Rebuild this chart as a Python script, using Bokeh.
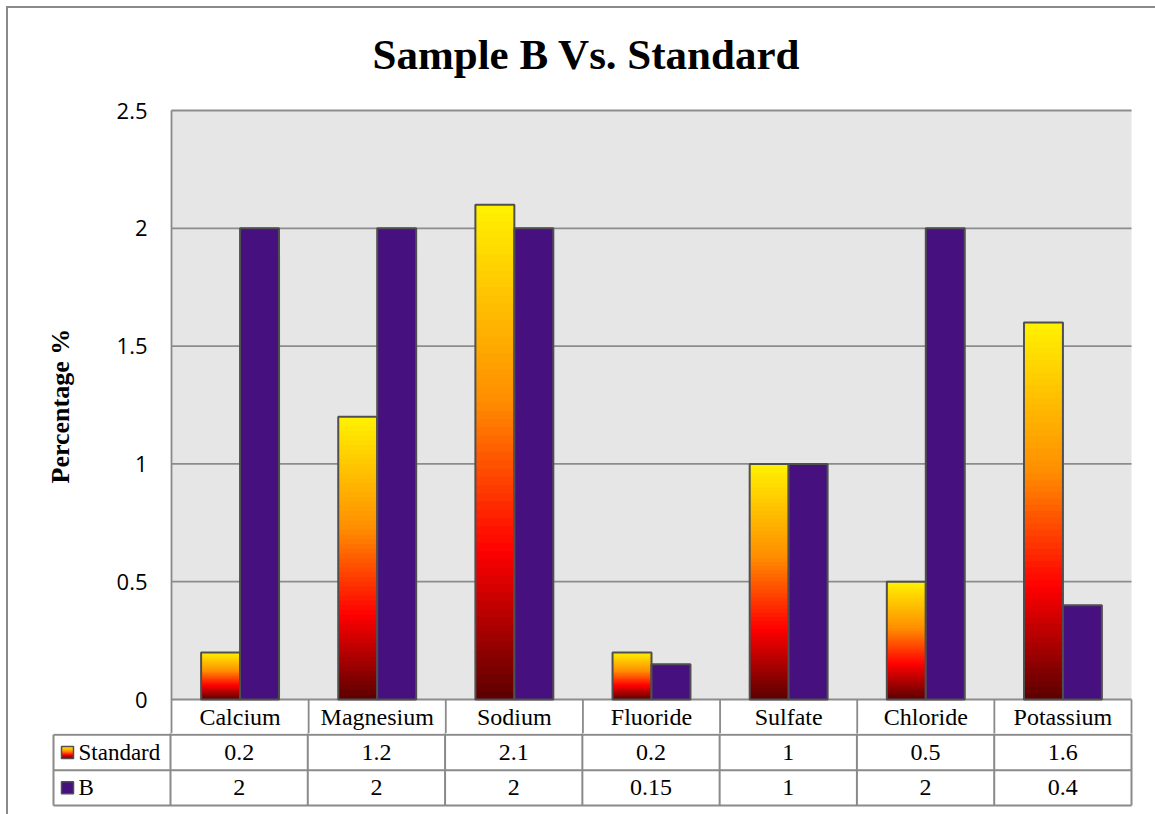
from bokeh.plotting import figure
from bokeh.layouts import column
from bokeh.models import Range1d, FixedTicker, NumeralTickFormatter, Title
from bokeh.core.properties import value
from bokeh.embed import file_html
from bokeh.resources import INLINE

# ---- data ----
categories = ["Calcium", "Magnesium", "Sodium", "Fluoride", "Sulfate", "Chloride", "Potassium"]
standard = [0.2, 1.2, 2.1, 0.2, 1.0, 0.5, 1.6]
sample_b = [2, 2, 2, 0.15, 1, 2, 0.4]
series_names = ["Standard", "B"]
y_ticks = [0, 0.5, 1, 1.5, 2, 2.5]

# ---- page geometry (pixels) ----
PAD = 8                         # outer border offset
W = 1155 - PAD
PLOT_L, PLOT_R = 170, 1131      # plot area, left/right
PLOT_T, PLOT_B = 110, 699       # plot area, top (2.5) / bottom (0)
ROW_PX = 35.33                  # data-table row height
TABLE_B = PLOT_B + 3 * ROW_PX   # bottom rule of the table
TABLE_L = 53                    # left edge of the series-name column
SPLIT = 733                     # where the chart canvas hands over to the table canvas

N = len(categories)
SCALE = (PLOT_R - PLOT_L) / N           # px per category
PXU = (PLOT_B - PLOT_T) / y_ticks[-1]   # px per y unit
BAR_W = 39 / SCALE
ROW = ROW_PX / PXU                      # one table row in y units

GRID = "#8c8c8c"
RULE = "#8a8a8a"
OUTLINE = "#4f4f4f"
PURPLE = "#46107e"
SERIF = "Liberation Serif"


def fire(t):
    """Yellow -> orange -> red -> dark red, t measured from the bar's base."""
    stops = [(0.0, (0x5a, 0x00, 0x00)), (0.30, (0xff, 0x00, 0x00)),
             (0.60, (0xff, 0x8c, 0x00)), (1.0, (0xff, 0xf2, 0x00))]
    for (a, ca), (b, cb) in zip(stops, stops[1:]):
        if t <= b:
            f = (t - a) / (b - a)
            return "#%02x%02x%02x" % tuple(round(ca[j] + (cb[j] - ca[j]) * f) for j in range(3))
    return "#fff200"


def gradient_layers(lefts, rights, bottoms, tops, n=60):
    """Nested layers from the base, tallest drawn first, so no seams show."""
    L, R, B, T, C = [], [], [], [], []
    for k in range(n - 1, -1, -1):
        for l, r, b0, t0 in zip(lefts, rights, bottoms, tops):
            L.append(l); R.append(r); B.append(b0)
            T.append(b0 + (t0 - b0) * (k + 1) / n)
            C.append(fire((k + 0.5) / n))
    return L, R, B, T, C


# ---- chart (plot area + category row) ----
fl, fr, ft = PLOT_L - 2, PLOT_R + 2, PLOT_T - 2   # frame edges, 2px slack for rules
p = figure(width=W, height=SPLIT - PAD,
           x_range=Range1d((fl - PLOT_L) / SCALE, N + (fr - PLOT_R) / SCALE),
           y_range=Range1d((PLOT_B - SPLIT) / PXU, (PLOT_B - ft) / PXU),
           output_backend="svg", toolbar_location=None, x_axis_location=None,
           min_border_left=fl - PAD, min_border_right=1155 - fr,
           min_border_top=ft - PAD, min_border_bottom=0,
           background_fill_color="white", border_fill_color="white",
           outline_line_color=None, title="Sample B Vs. Standard")
p.frame_align = False

p.title.text_font = SERIF
p.title.text_font_size = "43px"
p.title.text_font_style = "bold"
p.title.text_color = "black"
p.title.align = "left"
p.title.offset = 371 - fl
p.title.vertical_align = "bottom"
p.title.standoff = 0
# blank band between the title and the plot area
p.add_layout(Title(text=" ", text_font_size="1px", standoff=28), "above")

p.xgrid.visible = False
p.ygrid.visible = False

ax = p.yaxis[0]
ax.ticker = FixedTicker(ticks=y_ticks)
ax.formatter = NumeralTickFormatter(format="0.[0]")
ax.axis_line_color = None
ax.major_tick_line_color = None
ax.minor_tick_line_color = None
ax.major_label_standoff = 16
ax.major_label_text_font = "Open Sans"
ax.major_label_text_font_size = "22px"
ax.major_label_text_color = "black"

# y-axis title, centred on the plot area rather than on the whole canvas
ytitle = Title(text="Percentage %", text_font=SERIF, text_font_style="bold",
               text_font_size="26px", text_color="black",
               align="left", offset=SPLIT - 483, vertical_align="top", standoff=74)
p.add_layout(ytitle, "left")

# grey plot area and horizontal grid
p.quad(left=[0], right=[N], bottom=[y_ticks[0]], top=[y_ticks[-1]],
       fill_color="#e6e6e6", line_color=None)
p.segment(x0=[0] * len(y_ticks), x1=[N] * len(y_ticks), y0=y_ticks, y1=y_ticks,
          line_color=GRID, line_width=1.8)

centers = [i + 0.5 for i in range(N)]
std_left = [c - BAR_W for c in centers]
std_right = centers
b_left = centers
b_right = [c + BAR_W for c in centers]
zeros = [0] * N

L, R, B, T, C = gradient_layers(std_left, std_right, zeros, standard)
p.quad(left=L, right=R, bottom=B, top=T, fill_color=C, line_color=None)
p.quad(left=std_left, right=std_right, bottom=zeros, top=standard,
       fill_color=None, line_color=OUTLINE, line_width=2)
p.quad(left=b_left, right=b_right, bottom=zeros, top=sample_b,
       fill_color=PURPLE, line_color=OUTLINE, line_width=2)

# plot-area left edge, continuing as the table's left rule; category cell rules
vx = list(range(N + 1))
p.segment(x0=vx, x1=vx, y0=[-1] * (N + 1), y1=[y_ticks[-1]] + [0] * N,
          line_color=RULE, line_width=1.8)
p.text(x=centers, y=[-ROW / 2] * N, text=categories, text_align="center",
       text_baseline="middle", text_font=value(SERIF), text_font_size="24px",
       text_color="black")

# ---- data table rows ----
tl, tr, tb = TABLE_L - 2, PLOT_R + 2, 807
t = figure(width=W, height=814 - SPLIT,
           x_range=Range1d((tl - PLOT_L) / SCALE, N + (tr - PLOT_R) / SCALE),
           y_range=Range1d((TABLE_B - tb) / ROW_PX, (TABLE_B - SPLIT) / ROW_PX),
           output_backend="svg", toolbar_location=None,
           x_axis_location=None, y_axis_location=None,
           min_border_left=tl - PAD, min_border_right=1155 - tr,
           min_border_top=0, min_border_bottom=814 - tb,
           outline_line_color=None, background_fill_color="white",
           border_fill_color="white")
t.frame_align = False
t.grid.visible = False

left_edge = (TABLE_L - PLOT_L) / SCALE
sx0 = [left_edge] * 3 + vx + [left_edge]
sx1 = [N] * 3 + vx + [left_edge]
sy0 = [2, 1, 0] + [0] * (N + 1) + [0]
sy1 = [2, 1, 0] + [3] * (N + 1) + [2]
t.segment(x0=sx0, y0=sy0, x1=sx1, y1=sy1, line_color=RULE, line_width=2)

txt = dict(text_font=value(SERIF), text_color="black", text_baseline="middle")
t.text(x=centers, y=[1.5] * N, text=[f"{v:g}" for v in standard], text_align="center",
       text_font_size="24px", **txt)
t.text(x=centers, y=[0.5] * N, text=[f"{v:g}" for v in sample_b], text_align="center",
       text_font_size="24px", **txt)

name_x = (78 - PLOT_L) / SCALE
t.text(x=[name_x, name_x], y=[1.5, 0.5], text=series_names, text_align="left",
       text_font_size="23px", **txt)

key_cx = (67 - PLOT_L) / SCALE
kx, ky = 6 / SCALE, 6 / ROW_PX
L, R, B, T, C = gradient_layers([key_cx - kx], [key_cx + kx], [1.5 - ky], [1.5 + ky], n=12)
t.quad(left=L, right=R, bottom=B, top=T, fill_color=C, line_color=None)
t.quad(left=[key_cx - kx] * 2, right=[key_cx + kx] * 2,
       bottom=[1.5 - ky, 0.5 - ky], top=[1.5 + ky, 0.5 + ky],
       fill_color=[None, PURPLE], line_color=OUTLINE, line_width=1.5)

layout = column(p, t, spacing=0,
                styles={"border-top": "2px solid #8a8a8a",
                        "border-left": "2px solid #8a8a8a",
                        "margin-left": "6px", "margin-top": "6px"})

open("out.html", "w").write(file_html(layout, INLINE))
